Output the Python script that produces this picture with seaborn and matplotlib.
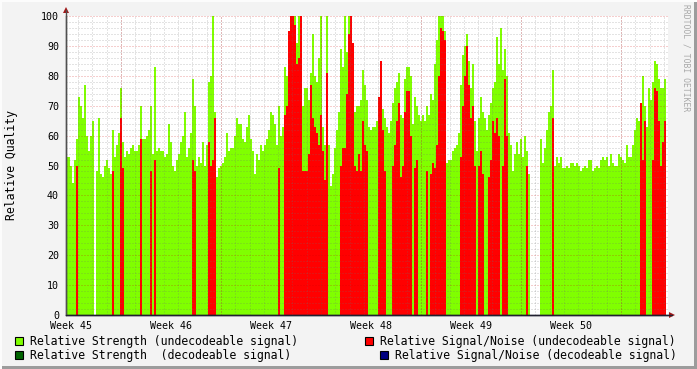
import numpy as np
import pandas as pd
import matplotlib
matplotlib.use("Agg")
import matplotlib.pyplot as plt
import seaborn as sns
from matplotlib.patches import Rectangle, Polygon
from matplotlib.lines import Line2D
from matplotlib.ticker import MultipleLocator, FixedLocator, NullFormatter

# ---------------- data (one slot = 1/50 week) ----------------
week_labels = ["Week 45", "Week 46", "Week 47", "Week 48", "Week 49", "Week 50"]

strength_w45 = [53, 53, 50, 44, 52, 59, 73, 70, 66, 77, 60, 55, 60, 65, 0, 48, 66, 47, 46, 50,
                52, 49, 47, 62, 53, 57, 61, 76, 58, 53, 55, 54, 56, 57, 55, 55, 57, 70, 59, 59,
                60, 62, 70, 54, 83, 55, 56, 55, 55, 53]
strength_w46 = [54, 64, 58, 50, 48, 52, 54, 58, 60, 68, 53, 56, 61, 79, 70, 50, 53, 51, 58, 50,
                57, 78, 80, 100, 68, 46, 49, 50, 51, 53, 61, 55, 56, 56, 60, 66, 64, 64, 59, 58,
                63, 67, 59, 55, 47, 54, 52, 57, 55, 57]
strength_w47 = [59, 62, 68, 67, 64, 57, 70, 60, 63, 83, 80, 95, 100, 100, 100, 91, 100, 100, 70, 76,
                76, 72, 81, 94, 80, 78, 86, 100, 63, 57, 100, 57, 43, 47, 56, 62, 68, 89, 83, 100,
                88, 100, 100, 68, 68, 70, 70, 72, 82, 77]
strength_w48 = [72, 63, 62, 63, 63, 65, 72, 78, 69, 66, 63, 61, 65, 71, 76, 78, 81, 67, 66, 79,
                83, 83, 80, 64, 73, 70, 67, 65, 67, 65, 70, 67, 74, 72, 84, 92, 100, 100, 100, 95,
                51, 52, 52, 55, 56, 57, 61, 77, 87, 90]
strength_w49 = [94, 85, 76, 84, 65, 55, 66, 73, 68, 66, 62, 67, 71, 76, 78, 93, 84, 96, 82, 89,
                80, 61, 57, 48, 54, 58, 54, 59, 53, 60, 55, 47, 0, 0, 0, 0, 0, 59, 51, 56,
                62, 68, 70, 82, 50, 53, 51, 53, 49, 49]
strength_w50 = [50, 49, 51, 51, 50, 51, 50, 48, 49, 50, 49, 52, 52, 48, 49, 50, 49, 52, 53, 52,
                53, 50, 54, 51, 50, 50, 54, 53, 52, 51, 57, 53, 53, 57, 62, 66, 65, 66, 80, 70,
                63, 76, 72, 78, 85, 84, 79, 76, 76, 79]

snr_w45 = [0, 0, 0, 0, 0, 50, 0, 0, 0, 0, 0, 0, 0, 0, 0, 0, 0, 0, 0, 0,
           0, 0, 0, 48, 0, 0, 0, 66, 49, 0, 0, 0, 0, 0, 0, 0, 0, 59, 0, 0,
           0, 0, 48, 0, 52, 0, 0, 0, 0, 0]
snr_w46 = [0, 0, 0, 0, 0, 0, 0, 0, 0, 0, 0, 0, 0, 52, 48, 0, 0, 0, 0, 0,
           0, 58, 50, 52, 66, 0, 0, 0, 0, 0, 0, 0, 0, 0, 0, 0, 0, 0, 0, 0,
           0, 0, 0, 0, 0, 0, 0, 0, 0, 0]
snr_w47 = [0, 0, 0, 0, 0, 0, 49, 0, 0, 67, 70, 95, 100, 100, 97, 84, 86, 100, 48, 48,
           48, 54, 77, 66, 63, 61, 57, 67, 55, 45, 81, 0, 0, 0, 0, 0, 0, 50, 56, 56,
           74, 94, 100, 91, 50, 48, 54, 48, 65, 57]
snr_w48 = [55, 0, 0, 0, 0, 0, 73, 85, 62, 48, 0, 0, 0, 50, 57, 65, 71, 46, 50, 68,
           75, 75, 60, 0, 49, 52, 0, 0, 0, 0, 48, 0, 47, 51, 49, 57, 80, 96, 95, 92,
           0, 0, 0, 0, 0, 0, 0, 53, 70, 80]
snr_w49 = [90, 77, 66, 70, 50, 0, 50, 55, 47, 0, 0, 46, 52, 65, 61, 66, 60, 0, 50, 79,
           60, 0, 0, 0, 0, 0, 0, 0, 0, 0, 50, 0, 0, 0, 0, 0, 0, 0, 0, 0,
           0, 0, 0, 66, 0, 0, 0, 0, 0, 0]
snr_w50 = [0, 0, 0, 0, 0, 0, 0, 0, 0, 0, 0, 0, 0, 0, 0, 0, 0, 0, 0, 0,
           0, 0, 0, 0, 0, 0, 0, 0, 0, 0, 0, 0, 0, 0, 0, 0, 0, 71, 52, 65,
           0, 0, 0, 52, 76, 75, 65, 50, 58, 65]

legend_labels = ["Relative Strength (undecodeable signal)",
                 "Relative Strength  (decodeable signal)",
                 "Relative Signal/Noise (undecodeable signal)",
                 "Relative Signal/Noise (decodeable signal)"]
legend_colors = ["#80FF00", "#006400", "#FF0000", "#000080"]

strength = np.array(strength_w45 + strength_w46 + strength_w47 + strength_w48 + strength_w49 + strength_w50, float)
snr = np.array(snr_w45 + snr_w46 + snr_w47 + snr_w48 + snr_w49 + snr_w50, float)
n = len(strength)
slots_per_week = 50
df = pd.DataFrame({"slot": np.arange(n) + 0.5, "strength": strength, "snr": snr})

# ---------------- figure ----------------
W, H = 697, 369
sns.set_theme(style="white")
plt.rcParams["font.family"] = ["DejaVu Sans Mono"]

def fx(x):
    return x / W

def fy(y):
    return 1 - y / H

fig = plt.figure(figsize=(W / 100, H / 100), dpi=100, facecolor="#F3F3F3")
ax = fig.add_axes([fx(66), fy(315), (668 - 66) / W, (315 - 16) / H])
ax.set_facecolor("white")

sns.barplot(data=df, x="slot", y="strength", native_scale=True, width=1, color=legend_colors[0],
            saturation=1, linewidth=0, errorbar=None, ax=ax)
sns.barplot(data=df, x="slot", y="snr", native_scale=True, width=1, color=legend_colors[2],
            saturation=1, linewidth=0, errorbar=None, ax=ax)
for p in ax.patches:
    p.set_antialiased(False)
    p.set_edgecolor("none")

ax.set_xlim(0, 301)
ax.set_ylim(0, 100)
ax.set_xlabel("")
ax.set_ylabel("")

minor_grid = dict(color="#707070", alpha=0.38, linestyle=(0, (1, 2)), linewidth=0.72)
major_grid = dict(color="#D00000", alpha=0.38, linestyle=(0, (1, 2)), linewidth=0.72)

# y axis ticks / grid
ax.yaxis.set_major_locator(MultipleLocator(10))
ax.yaxis.set_minor_locator(MultipleLocator(2))
ax.set_axisbelow(False)
ax.grid(which="minor", axis="y", **minor_grid)
ax.grid(which="major", axis="y", **major_grid)

# x axis: labels per week, grid per day
label_pos = [2.5 + k * slots_per_week for k in range(len(week_labels))]
ax.xaxis.set_major_locator(FixedLocator(label_pos))
ax.set_xticklabels(week_labels)
day = slots_per_week / 7
day_pos = [27.5 + k * day for k in range(-3, 40) if 0 < 27.5 + k * day < 301]
ax.xaxis.set_minor_locator(FixedLocator(day_pos))
ax.xaxis.set_minor_formatter(NullFormatter())
ax.grid(which="minor", axis="x", **minor_grid)
ax.grid(which="major", axis="x", visible=False)
for k in range(len(week_labels)):
    ax.axvline(27.5 + k * slots_per_week, zorder=3, **major_grid)

ax.tick_params(axis="x", which="major", length=0, pad=4, labelsize=7.2, colors="black")
ax.tick_params(axis="x", which="minor", length=2, color="#808080", direction="out")
ax.tick_params(axis="y", which="major", length=2, pad=3, labelsize=7.2, colors="black")
ax.tick_params(axis="y", which="minor", length=0)
ax.tick_params(axis="y", which="major", color="#808080")

for s in ["top", "right"]:
    ax.spines[s].set_visible(False)
ax.spines["left"].set_color("#505050")
ax.spines["bottom"].set_color("#202030")
for s in ["left", "bottom"]:
    ax.spines[s].set_linewidth(1.0)

# axis extensions with arrows
fig.add_artist(Line2D([fx(66), fx(66)], [fy(315), fy(10)], color="#505050", lw=1))
fig.add_artist(Line2D([fx(66), fx(672)], [fy(315), fy(315)], color="#202030", lw=1))
fig.add_artist(Polygon([[fx(63), fy(13)], [fx(69), fy(13)], [fx(66), fy(7)]], closed=True,
                       transform=fig.transFigure, facecolor="#A01818", edgecolor="none"))
fig.add_artist(Polygon([[fx(669), fy(312)], [fx(669), fy(318)], [fx(675), fy(315)]], closed=True,
                       transform=fig.transFigure, facecolor="#A01818", edgecolor="none"))

# labels
fig.text(fx(12), fy(165), "Relative Quality", rotation=90, ha="center", va="center",
         fontsize=8.3, color="black")
fig.text(fx(686), fy(4), "RRDTOOL / TOBI OETIKER", rotation=270, ha="center", va="top",
         fontsize=5.8, color="#A8A8A8")

# legend
legend_spots = [(15, 337, 30), (15, 351, 30), (365, 337, 380), (380, 351, 395)]
for (bx, by, tx), lab, col in zip(legend_spots, legend_labels, legend_colors):
    fig.add_artist(Rectangle((fx(bx), fy(by + 8)), 8 / W, 8 / H, transform=fig.transFigure,
                             facecolor=col, edgecolor="black", linewidth=0.8))
    fig.text(fx(tx), fy(by + 4), lab, ha="left", va="center", fontsize=8.3, color="black")

# 3D frame
fig.add_artist(Rectangle((0, 0), 1, 3 / H, transform=fig.transFigure, facecolor="#9C9C9C", edgecolor="none"))
fig.add_artist(Rectangle((1 - 3 / W, 0), 3 / W, 1, transform=fig.transFigure, facecolor="#9C9C9C", edgecolor="none"))
fig.add_artist(Rectangle((0, 1 - 2 / H), 1, 2 / H, transform=fig.transFigure, facecolor="#FCFCFC", edgecolor="none"))
fig.add_artist(Rectangle((0, 0), 2 / W, 1, transform=fig.transFigure, facecolor="#FCFCFC", edgecolor="none"))

fig.savefig("out.png", dpi=100, facecolor=fig.get_facecolor())
